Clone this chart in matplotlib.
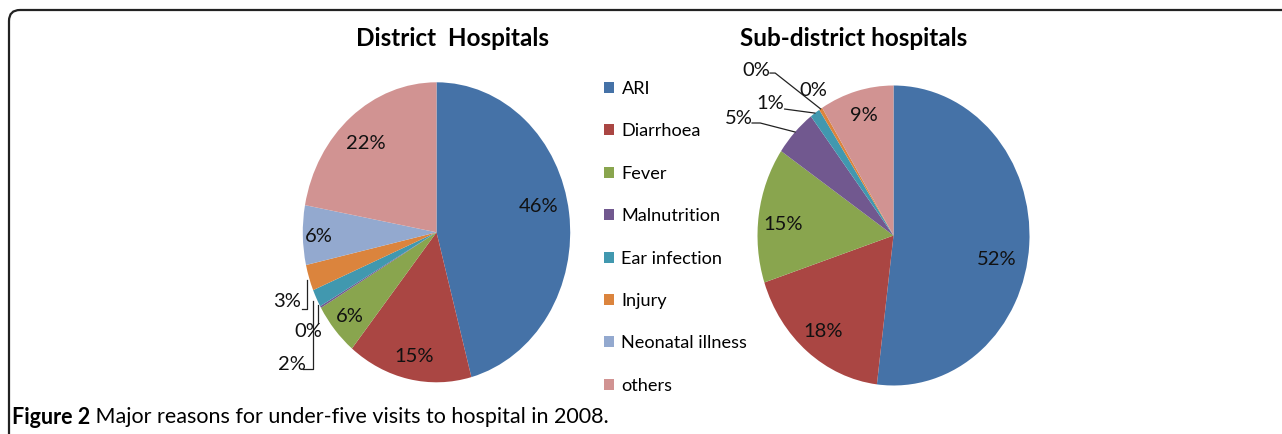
import matplotlib
matplotlib.use("Agg")
import matplotlib.pyplot as plt
from matplotlib.patches import FancyBboxPatch

# data (percent of under-five visits)
categories = ["ARI", "Diarrhoea", "Fever", "Malnutrition", "Ear infection",
              "Injury", "Neonatal illness", "others"]
district = [45.8, 15.1, 5.7, 0.2, 1.9, 2.8, 6.4, 22.1]
sub_district = [52.0, 18.0, 14.6, 5.1, 1.2, 0.4, 0.0, 8.8]
titles = ["District  Hospitals", "Sub-district hospitals"]
caption_bold = "Figure 2"
caption_rest = " Major reasons for under-five visits to hospital in 2008."

colors = ["#4572A7", "#AA4643", "#89A54E", "#71588F", "#4198AF",
          "#DB843D", "#93A9CF", "#D19392"]

FONT = "Lato"
PCT_SIZE = 14.5

# label positions (unit-circle coords) and leader lines, per pie
district_lbl = [(0.76, 0.17), (-0.17, -0.83), (-0.65, -0.56), (-0.96, -0.66),
                (-1.08, -0.88), (-1.12, -0.46), (-0.88, -0.03), (-0.53, 0.59)]
district_lines = [
    [(-1.006, -0.511), (-0.969, -0.511), (-0.969, -0.318)],
    [(-0.998, -0.911), (-0.924, -0.911), (-0.924, -0.46)],
    [(-0.886, -0.607), (-0.886, -0.485)],
]
sub_lbl = [(0.76, -0.16), (-0.52, -0.64), (-0.81, 0.07), (-1.14, 0.78),
           (-0.91, 0.88), (-1.01, 1.10), (-0.59, 0.97), (-0.22, 0.80)]
sub_lines = [
    [(-1.04, 0.75), (-0.98, 0.75), (-0.724, 0.69)],
    [(-0.80, 0.843), (-0.578, 0.816)],
    [(-0.908, 1.083), (-0.87, 1.083), (-0.536, 0.844)],
]

W, H = 1282, 434
fig = plt.figure(figsize=(W / 100, H / 100), dpi=100)


def px_axes(cx, cy, rx, ry, lim=1.2):
    left = (cx - rx * lim) / W
    bottom = (H - (cy + ry * lim)) / H
    return fig.add_axes([left, bottom, 2 * lim * rx / W, 2 * lim * ry / H])


def draw_pie(ax, values, lbl_pos, lines):
    wedges, _ = ax.pie(values, colors=colors, startangle=90, counterclock=False,
                       radius=1, wedgeprops=dict(linewidth=0))
    ax.set_aspect("auto")
    ax.set_xlim(-1.2, 1.2)
    ax.set_ylim(-1.2, 1.2)
    for v, (x, y) in zip(values, lbl_pos):
        ax.text(x, y, f"{round(v)}%", ha="center", va="center",
                fontsize=PCT_SIZE, family=FONT, color="#111111")
    for pts in lines:
        xs, ys = zip(*pts)
        ax.plot(xs, ys, color="#222222", lw=0.9, clip_on=False)
    return wedges


ax1 = px_axes(436.5, 232.3, 133.7, 150)
wedges = draw_pie(ax1, district, district_lbl, district_lines)
ax2 = px_axes(893.5, 235.5, 136, 150)
draw_pie(ax2, sub_district, sub_lbl, sub_lines)

fig.text(453 / W, 1 - 38 / H, titles[0], ha="center", va="center",
         fontsize=17.5, fontweight="bold", family=FONT)
fig.text(853.5 / W, 1 - 38 / H, titles[1], ha="center", va="center",
         fontsize=17.5, fontweight="bold", family=FONT)

leg = fig.legend(wedges, categories, loc="upper left",
                 bbox_to_anchor=(604 / W, 1 - 81 / H), frameon=False,
                 prop=dict(family=FONT, size=13.1), handlelength=0.56,
                 handleheight=0.56, handletextpad=0.4, labelspacing=1.45,
                 borderpad=0, borderaxespad=0)

# rounded frame, running off the right and bottom edges
frame = FancyBboxPatch((0.09, -0.5), 20, 4.74,
                       boxstyle="round,pad=0,rounding_size=0.11",
                       transform=fig.dpi_scale_trans, fill=False,
                       edgecolor="#222222", linewidth=1.6, clip_on=False)
fig.add_artist(frame)

# caption: bold figure number followed by regular text
t1 = fig.text(12 / W, 1 - 417 / H, caption_bold, ha="left", va="center",
              fontsize=15.5, fontweight="bold", family=FONT)
renderer = fig.canvas.get_renderer()
bb = t1.get_window_extent(renderer)
fig.text(bb.x1 / W, 1 - 417 / H, caption_rest, ha="left", va="center",
         fontsize=15.5, family=FONT)

fig.savefig("out.png", dpi=100)
